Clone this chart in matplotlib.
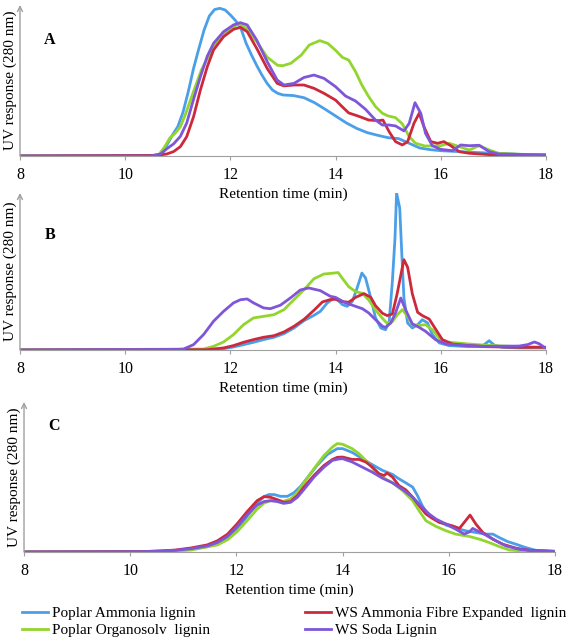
import matplotlib
matplotlib.use("Agg")
import matplotlib.pyplot as plt
from matplotlib.lines import Line2D

plt.rcParams["font.family"] = ["Liberation Serif", "DejaVu Serif"]

SERIES = ["Poplar Ammonia lignin", "Poplar Organosolv  lignin",
          "WS Ammonia Fibre Expanded  lignin", "WS Soda Lignin"]
COLORS = ["#4b9fe8", "#93d52f", "#cc2a3c", "#7f56d9"]
XTICKS = [8, 10, 12, 14, 16, 18]

# --- panel A (retention time, UV response in % of axis height) ---
a_blue_t = [8, 10.5, 10.7, 10.9, 11.0, 11.1, 11.2, 11.3, 11.4, 11.5, 11.6, 11.7, 11.8, 11.9,
            12.0, 12.1, 12.2, 12.3, 12.4, 12.5, 12.6, 12.7, 12.8, 12.9, 13.0, 13.2, 13.4, 13.6,
            13.8, 14.0, 14.2, 14.4, 14.6, 14.8, 15.0, 15.2, 15.4, 15.6, 15.8, 16.0, 16.5, 17.0,
            17.5, 18.0]
a_blue_y = [0, 0.3, 1.3, 14, 19.4, 29, 42.6, 58, 71, 83.4, 92.7, 97, 97.8, 96.7,
            93.4, 89.6, 84.5, 74.6, 67, 60, 53.6, 48, 43.7, 41.5, 40.4, 40, 38.6, 35.3,
            31, 26.5, 22, 18.3, 15.5, 13.7, 12.1, 11.5, 8.4, 5.3, 4.2, 3.5, 2.6, 1.8,
            1.1, 0.7]
a_green_t = [8, 10.5, 10.65, 10.75, 10.85, 10.95, 11.05, 11.15, 11.3, 11.45, 11.6, 11.75, 11.95,
             12.15, 12.3, 12.5, 12.7, 12.9, 13.0, 13.15, 13.35, 13.5, 13.7, 13.85, 14.0, 14.13,
             14.25, 14.38, 14.5, 14.63, 14.76, 14.89, 15.0, 15.14, 15.27, 15.4, 15.52, 15.7,
             16.0, 16.16, 16.35, 16.54, 16.73, 16.92, 17.1, 17.5, 18.0]
a_green_y = [0, 0, 1.3, 6, 12, 15, 19.4, 28, 42.8, 57, 67, 76.4, 83,
             87.5, 84.8, 75.7, 65.5, 60, 59.8, 61.4, 66.9, 73.5, 76.4, 74.6, 70, 65.3,
             63.5, 55.8, 47, 39.3, 32.7, 28.3, 26.5, 25.4, 21.2, 12.8, 8.4, 6.6,
             6.8, 8.4, 6.2, 4, 6.8, 4, 1.8, 1.1, 0.9]
a_red_t = [8, 10.6, 10.79, 10.92, 11.05, 11.17, 11.3, 11.43, 11.56, 11.68, 11.87, 12.06, 12.19,
           12.32, 12.5, 12.7, 12.89, 13.02, 13.21, 13.4, 13.59, 13.78, 14.0, 14.13, 14.25, 14.44,
           14.63, 14.83, 14.9, 15.02, 15.14, 15.27, 15.37, 15.49, 15.59, 15.68, 15.81, 15.94,
           16.06, 16.19, 16.35, 16.54, 17.0, 18.0]
a_red_y = [0, 0.4, 1.3, 2.9, 6.2, 12.8, 26, 43.7, 59, 70.2, 79, 83.9, 85.2,
           82.3, 71.3, 58, 48.1, 46.4, 47, 47, 44.8, 41.5, 37, 32.5, 28.5, 26.3,
           23.8, 23.4, 23.8, 16, 9.5, 7.3, 9.5, 21.6, 28.3, 19.4, 9.5, 8.4,
           9.5, 6.8, 2.9, 1.8, 0.7, 0.4]
a_purple_t = [8, 10.5, 10.67, 10.8, 10.92, 11.05, 11.17, 11.3, 11.43, 11.56, 11.68, 11.87, 12.06,
              12.19, 12.32, 12.5, 12.7, 12.89, 13.02, 13.21, 13.4, 13.59, 13.78, 14.0, 14.19,
              14.38, 14.57, 14.76, 14.89, 15.02, 15.14, 15.3, 15.4, 15.51, 15.62, 15.71, 15.84,
              16.0, 16.22, 16.38, 16.54, 16.73, 16.92, 17.1, 18.0]
a_purple_y = [0, 0, 1.3, 5, 8, 13, 21.8, 37.5, 52.5, 66, 74.6, 82.3, 86.8,
              88.3, 86.8, 76.8, 62.5, 50.3, 47, 48.1, 52, 53.6, 51.4, 45.9, 39.7,
              36.4, 30.9, 23.8, 20.5, 20.5, 19.9, 16.6, 21.6, 35.3, 28.3, 15.0, 6.8,
              4.4, 3.5, 7.3, 6.8, 7.1, 2.9, 1.3, 0.7]

# --- panel B ---
b_blue_t = [8, 11.62, 11.87, 12.06, 12.25, 12.44, 12.63, 12.83, 13.02, 13.21, 13.4, 13.59, 13.71,
            13.84, 13.97, 14.05, 14.13, 14.22, 14.32, 14.41, 14.5, 14.57, 14.67, 14.76, 14.86,
            14.95, 15.02, 15.08, 15.13, 15.16, 15.22, 15.26, 15.3, 15.37, 15.46, 15.56, 15.65,
            15.75, 15.84, 15.97, 16.16, 16.54, 16.79, 16.92, 17.02, 17.17, 17.49, 18.0]
b_blue_y = [0, 0.2, 0.8, 1.9, 3.4, 4.9, 6.6, 8.1, 10.4, 14, 18.7, 22.1, 24.6,
            29.9, 33.1, 31.5, 28.9, 27.8, 31, 39.5, 49, 45.9, 33.1, 20.4, 14,
            12.9, 18.3, 43.7, 71.3, 100, 90.4, 60.7, 33.1, 17.2, 14, 16.1, 19.3,
            17.2, 9.8, 4.5, 2.8, 2.1, 2.5, 5.9, 3, 1.7, 1.3, 1.3]
b_green_t = [8, 11.49, 11.68, 11.87, 12.06, 12.25, 12.44, 12.63, 12.83, 13.02, 13.21, 13.4, 13.59,
             13.78, 13.97, 14.05, 14.13, 14.25, 14.38, 14.51, 14.63, 14.76, 14.89, 14.98, 15.08,
             15.17, 15.27, 15.37, 15.46, 15.59, 15.71, 15.84, 15.97, 16.1, 16.54, 16.86, 17.49,
             18.0]
b_green_y = [0, 0.6, 2.3, 5.1, 9.8, 16.1, 20.4, 21.4, 22.5, 25.7, 32.1, 38.4, 45.4,
             48.4, 49, 49.3, 45.6, 40.3, 37.2, 36.1, 31.8, 25.5, 20.2, 17, 18,
             22.3, 25.7, 21.4, 16.1, 15.7, 16.1, 12.9, 7.6, 5.1, 3.8, 3, 2.1,
             1.7]
b_red_t = [8, 11.56, 11.87, 12.06, 12.25, 12.44, 12.63, 12.83, 13.02, 13.21, 13.4, 13.59, 13.75,
           13.9, 14.0, 14.13, 14.25, 14.38, 14.54, 14.67, 14.76, 14.89, 14.98, 15.08, 15.17,
           15.27, 15.3, 15.37, 15.46, 15.56, 15.65, 15.78, 15.9, 16.03, 16.22, 16.54, 16.86,
           17.49, 18.0]
b_red_y = [0, 0.2, 1.3, 2.8, 4.9, 6.6, 8.1, 9.1, 11.5, 15.1, 19.5, 25.3, 30.6,
           32.1, 32.3, 30.8, 30.4, 33.5, 35.9, 33.5, 28.2, 23.4, 21.9, 22.9, 35.7,
           52.7, 57.5, 52.7, 35.7, 24, 21.9, 19.7, 13.4, 6.6, 3.8, 2.8, 2.1,
           1.7, 1.7]
b_purple_t = [8, 11.0, 11.11, 11.3, 11.49, 11.68, 11.87, 12.06, 12.19, 12.32, 12.44, 12.63, 12.76,
              12.95, 13.14, 13.33, 13.49, 13.71, 13.9, 14.0, 14.19, 14.38, 14.51, 14.63, 14.76,
              14.89, 14.95, 15.05, 15.14, 15.24, 15.33, 15.46, 15.59, 15.71, 15.9, 16.1, 16.41,
              16.86, 17.49, 17.65, 17.78, 17.87, 17.97, 18.0]
b_purple_y = [0, 0.4, 0.6, 3.4, 9.8, 18.3, 24.6, 30, 32, 32.5, 30, 26.8, 26.3,
              28.5, 33.1, 38.2, 39.5, 37.8, 34.2, 33.5, 30, 27.8, 26.3, 23.6, 19.3,
              15.1, 14.4, 17.2, 23.6, 33.1, 25.7, 16.6, 14.4, 11.9, 6.6, 3.8, 3,
              2.3, 2.5, 3.4, 5.1, 4, 1.7, 1.2]

# --- panel C ---
c_blue_t = [8, 10.2, 10.6, 10.85, 11.15, 11.45, 11.64, 11.83, 12.01, 12.2, 12.39, 12.52, 12.61,
            12.71, 12.83, 12.96, 13.08, 13.21, 13.33, 13.52, 13.71, 13.9, 14.0, 14.18, 14.37,
            14.56, 14.75, 14.94, 15.06, 15.19, 15.32, 15.41, 15.5, 15.6, 15.76, 15.95, 16.13,
            16.32, 16.51, 16.7, 16.83, 16.95, 17.11, 17.27, 17.45, 17.64, 18.0]
c_blue_y = [0, 0.2, 0.5, 0.9, 1.8, 3.6, 5.1, 8.9, 15.2, 23.7, 32.6, 36.9, 38.3,
            38.3, 37.1, 37.1, 39.4, 43.8, 49.2, 57.7, 64.9, 68.9, 68.9, 66.4, 62.2,
            58.2, 54.4, 51.7, 48.8, 46.1, 43.2, 37.6, 30.9, 25.3, 21.5, 17.9, 15.9,
            14.1, 13, 11.9, 11.9, 9.6, 6.9, 5.1, 2.9, 1.1, 0.4]
c_green_t = [8, 10.2, 10.6, 10.85, 11.15, 11.45, 11.64, 11.83, 12.01, 12.2, 12.39, 12.52, 12.64,
             12.77, 12.89, 13.02, 13.15, 13.27, 13.46, 13.65, 13.81, 13.9, 14.0, 14.18, 14.31,
             14.5, 14.62, 14.75, 14.94, 15.13, 15.32, 15.44, 15.57, 15.76, 15.95, 16.13, 16.39,
             16.58, 16.76, 16.95, 17.14, 17.39, 18.0]
c_green_y = [0, 0.2, 0.4, 0.7, 1.3, 3.4, 4.7, 8.1, 13.4, 20.8, 28.6, 32.6, 34.2,
             34.2, 33.8, 35.3, 39.8, 46.1, 55.5, 64.4, 70, 72.3, 71.8, 68.9, 65.5,
             58.8, 53.2, 49.9, 46.1, 40.9, 34.2, 27.5, 20.8, 17, 14.1, 11.9, 10.3,
             8.5, 6.3, 3.6, 1.3, 0.7, 0.4]
c_red_t = [8, 10.2, 10.6, 10.85, 11.15, 11.45, 11.64, 11.83, 12.01, 12.2, 12.39, 12.52, 12.64,
           12.77, 12.89, 13.02, 13.15, 13.27, 13.46, 13.65, 13.81, 13.9, 14.0, 14.18, 14.31,
           14.44, 14.56, 14.69, 14.78, 14.84, 14.94, 15.06, 15.19, 15.32, 15.44, 15.57, 15.69,
           15.82, 15.95, 16.07, 16.2, 16.29, 16.4, 16.51, 16.64, 16.83, 17.02, 17.27, 17.52,
           18.0]
c_red_y = [0, 0.2, 0.7, 1.3, 2.7, 4.7, 7.4, 11.8, 18.6, 26.8, 34.2, 36.9, 36.5,
           34.9, 33.1, 33.6, 37.6, 43.2, 51, 57.7, 61.7, 63.1, 63.3, 61.7, 61.7,
           59.9, 56.6, 52.1, 51, 52.6, 49.9, 44.3, 41.4, 36.5, 30.9, 25.3, 22.4,
           19.7, 18.6, 17.4, 15.7, 19.7, 24.6, 18.6, 13, 8.5, 5.1, 2.5, 1.1,
           0.4]
c_purple_t = [8, 10.2, 10.6, 10.85, 11.15, 11.45, 11.64, 11.83, 12.01, 12.2, 12.39, 12.52, 12.64,
              12.77, 12.89, 13.02, 13.15, 13.27, 13.46, 13.65, 13.81, 13.93, 14.0, 14.18, 14.37,
              14.56, 14.75, 14.94, 15.13, 15.32, 15.5, 15.63, 15.76, 15.95, 16.13, 16.29, 16.39,
              16.45, 16.54, 16.7, 16.89, 17.08, 17.33, 17.64, 18.0]
c_purple_y = [0, 0.2, 0.7, 1.1, 2.2, 4, 6.3, 10.3, 16.8, 24.6, 31.3, 33.6, 34.2,
              33.6, 32.4, 33.1, 36.5, 41.6, 49.9, 56.6, 61.1, 62, 62.2, 60, 56.6,
              53.2, 49.2, 46.1, 41.6, 36.5, 29.8, 25.3, 21.9, 18.6, 15.2, 11.9, 13.4,
              15.7, 14.1, 11.2, 7.4, 4, 1.8, 0.7, 0.4]

panels = [
    ("A", [0.0351, 0.7559, 0.9244, 0.2363], 0.77,
     [(a_blue_t, a_blue_y), (a_green_t, a_green_y), (a_red_t, a_red_y), (a_purple_t, a_purple_y)]),
    ("B", [0.0351, 0.4523, 0.9244, 0.2457], 0.73,
     [(b_blue_t, b_blue_y), (b_green_t, b_green_y), (b_red_t, b_red_y), (b_purple_t, b_purple_y)]),
    ("C", [0.0422, 0.1362, 0.9332, 0.2347], 0.84,
     [(c_blue_t, c_blue_y), (c_green_t, c_green_y), (c_red_t, c_red_y), (c_purple_t, c_purple_y)]),
]

fig = plt.figure(figsize=(5.69, 6.39), dpi=100)
axis_grey = "#a0a0a0"

for letter, rect, letter_y, curves in panels:
    ax = fig.add_axes(rect)
    for (t, y), color in zip(curves, COLORS):
        ax.plot(t, y, color=color, lw=2.0, solid_joinstyle="round", solid_capstyle="round")
    ax.set_xlim(8, 18)
    ax.set_ylim(0, 100)
    ax.set_xticks(XTICKS)
    ax.set_yticks([])
    for side in ["top", "right", "left"]:
        ax.spines[side].set_visible(False)
    ax.spines["bottom"].set_color(axis_grey)
    ax.tick_params(axis="x", colors=axis_grey, labelcolor="black", length=3,
                   labelsize=11.5, pad=5)
    ax.annotate("", xy=(0, 1.0), xytext=(0, 0), xycoords="axes fraction",
                arrowprops=dict(arrowstyle="->", color=axis_grey, lw=1.0,
                                shrinkA=0, shrinkB=0, mutation_scale=9))
    ax.set_xlabel("Retention time (min)", fontsize=11, labelpad=3)
    ax.set_ylabel("UV response (280 nm)", fontsize=11)
    ax.yaxis.set_label_coords(-0.006, 0.5)
    ax.text(0.057, letter_y, letter, transform=ax.transAxes, fontsize=11.5,
            fontweight="bold", ha="center", va="center")
    ax.patch.set_alpha(0)

handles = [Line2D([], [], color=c, lw=2.0) for c in COLORS]
leg_kw = dict(frameon=False, fontsize=11, handlelength=1.7, handletextpad=0.25,
              borderpad=0, borderaxespad=0, labelspacing=0.2, loc="center left")
fig.legend(handles[:2], SERIES[:2], bbox_to_anchor=(22 / 569, 0.027), **leg_kw)
fig.legend(handles[2:], SERIES[2:], bbox_to_anchor=(305 / 569, 0.027), **leg_kw)

fig.savefig("out.png", dpi=100)
